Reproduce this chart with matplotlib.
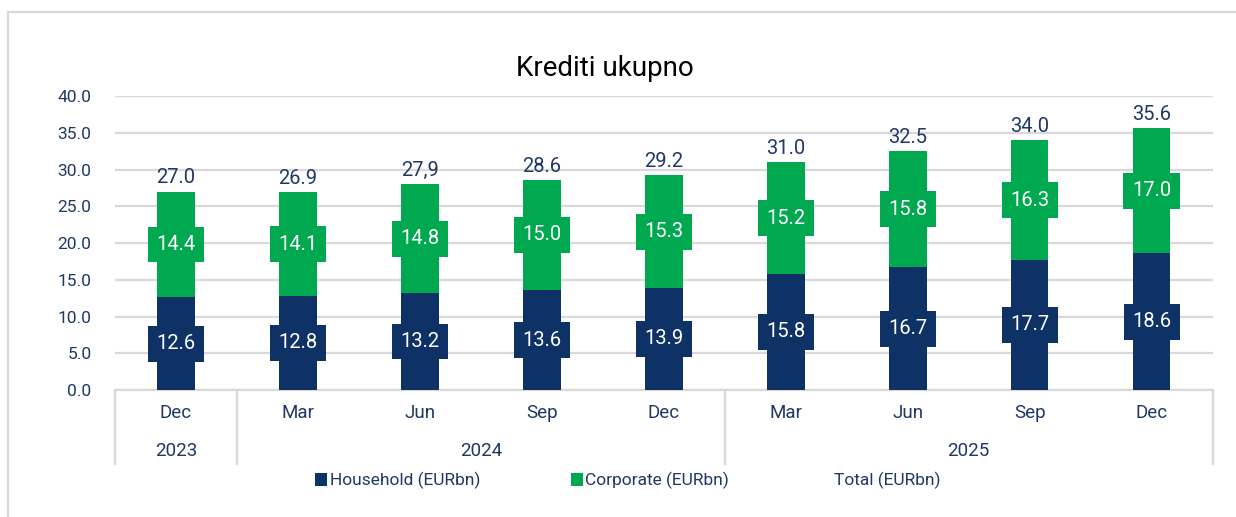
"""Krediti ukupno - stacked bars household / corporate"""
import matplotlib
matplotlib.use("Agg")
import matplotlib.pyplot as plt
from matplotlib import font_manager
from matplotlib.patches import Patch, Rectangle
import matplotlib.transforms as mtransforms
import numpy as np

MONTHS = ["Dec", "Mar", "Jun", "Sep", "Dec", "Mar", "Jun", "Sep", "Dec"]
YEARS = ["2023", "2024", "2025"]
YEAR_SPANS = [(0, 0), (1, 4), (5, 8)]
HOUSEHOLD = [12.6, 12.8, 13.2, 13.6, 13.9, 15.8, 16.7, 17.7, 18.6]
CORPORATE = [14.4, 14.1, 14.8, 15.0, 15.3, 15.2, 15.8, 16.3, 17.0]
TOTAL_LABELS = ["27.0", "26.9", "27,9", "28.6", "29.2", "31.0", "32.5", "34.0", "35.6"]

NAVY = "#0E3166"
GREEN = "#00A84F"
TEXT = "#1F3864"
GRID = "#D9D9D9"

installed = {f.name for f in font_manager.fontManager.ttflist}
NARROW = "Liberation Sans Narrow" if "Liberation Sans Narrow" in installed else "Roboto"
NUM_FONT = "Roboto" if "Roboto" in installed else "DejaVu Sans"

fig = plt.figure(figsize=(12.36, 5.17), dpi=100)
ax = fig.add_axes([0.093, 0.2456, 0.888, 0.5687])

x = np.arange(len(MONTHS))
hh = np.array(HOUSEHOLD)
corp = np.array(CORPORATE)
ax.bar(x, hh, width=0.31, color=NAVY, zorder=3)
ax.bar(x, corp, width=0.31, bottom=hh, color=GREEN, zorder=3)

for i in range(len(x)):
    ax.text(x[i], hh[i] / 2, f"{hh[i]:.1f}", ha="center", va="center", color="white",
            fontsize=14.5, family=NUM_FONT, zorder=4,
            bbox=dict(boxstyle="square,pad=0.42", fc=NAVY, ec="none"))
    ax.text(x[i], hh[i] + corp[i] / 2, f"{corp[i]:.1f}", ha="center", va="center", color="white",
            fontsize=14.5, family=NUM_FONT, zorder=4,
            bbox=dict(boxstyle="square,pad=0.42", fc=GREEN, ec="none"))
    ax.annotate(TOTAL_LABELS[i], (x[i], hh[i] + corp[i]), xytext=(0, 3), textcoords="offset points",
                ha="center", va="bottom", color=TEXT, fontsize=14.5, family=NUM_FONT)

ax.set_xlim(-0.5, len(MONTHS) - 0.5)
ax.set_ylim(0, 40)
ax.set_yticks(np.arange(0, 41, 5))
ax.set_yticklabels([f"{v:.1f}" for v in np.arange(0, 41, 5)], fontsize=12.5, color=TEXT, family=NUM_FONT)
ax.tick_params(axis="y", length=0, pad=17)
ax.set_xticks([])
ax.grid(axis="y", color=GRID, lw=1.6, zorder=0)
for s in ["top", "right", "left"]:
    ax.spines[s].set_visible(False)
ax.spines["bottom"].set_color(GRID)
ax.spines["bottom"].set_linewidth(1.6)

# two-level category axis
trans = mtransforms.blended_transform_factory(ax.transData, ax.transAxes)
for b in [-0.5, 0.5, 4.5, 8.5]:
    ax.plot([b, b], [0, -0.25], transform=trans, color=GRID, lw=1.6, clip_on=False)
for i, m in enumerate(MONTHS):
    ax.text(i, -0.078, m, transform=trans, ha="center", va="center", color=TEXT, fontsize=13.5, family=NARROW)
for yr, (a, b) in zip(YEARS, YEAR_SPANS):
    ax.text((a + b) / 2, -0.207, yr, transform=trans, ha="center", va="center", color=TEXT, fontsize=13.5, family=NARROW)

fig.text(0.489, 0.868, "Krediti ukupno", ha="center", va="center", fontsize=20, color="black", family=NARROW)

handles = [Patch(fc=NAVY, ec="none"), Patch(fc=GREEN, ec="none"), Patch(fc="none", ec="none")]
labels = ["Household (EURbn)", "Corporate (EURbn)", "Total (EURbn)"]
fig.legend(handles, labels, loc="center", bbox_to_anchor=(0.508, 0.07), ncol=3, frameon=False,
           prop={"family": NARROW, "size": 12.5}, labelcolor=TEXT, handlelength=0.7, handleheight=0.7,
           handletextpad=0.15, columnspacing=5.2)

fig.patches.append(Rectangle((8 / 1236, -0.1), 1.2, 1.1 - 12 / 517, transform=fig.transFigure,
                             fill=False, ec=GRID, lw=1.6))

fig.savefig("out.png", dpi=100)
